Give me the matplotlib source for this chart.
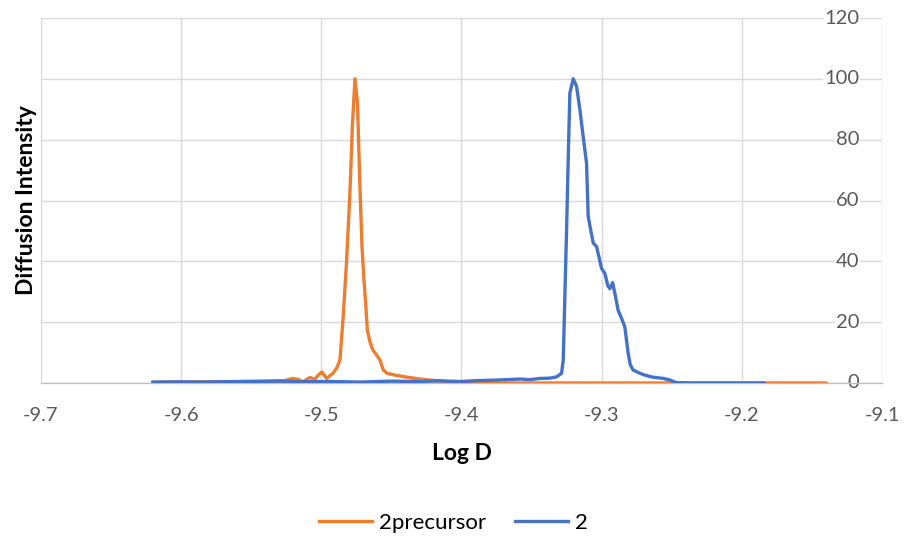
import matplotlib.pyplot as plt

plt.rcParams["font.family"] = ["Lato", "DejaVu Sans"]

# DOSY projection: log D versus diffusion intensity
precursor_logd = [
    -9.6201, -9.6009, -9.5723, -9.5438, -9.5260, -9.5203, -9.5167, -9.5131,
    -9.5081, -9.5046, -9.5024, -9.4996, -9.4962, -9.4939, -9.4917, -9.4889,
    -9.4867, -9.4844, -9.4820, -9.4796, -9.4778, -9.4760, -9.4742, -9.4725,
    -9.4710, -9.4696, -9.4682, -9.4672, -9.4653, -9.4632, -9.4606, -9.4582,
    -9.4558, -9.4532, -9.4475, -9.4389, -9.4275, -9.4104, -9.3940, -9.1400,
]
precursor_int = [
    0.2, 0.3, 0.4, 0.5, 0.8, 1.5, 1.2, 0.4,
    1.8, 1.2, 2.5, 3.6, 1.5, 2.4, 3.2, 5.0,
    7.6, 21.8, 40.0, 62.5, 85.0, 100.0, 92.0, 65.0,
    45.0, 34.0, 25.0, 17.4, 13.5, 10.8, 9.2, 7.6,
    4.3, 3.2, 2.6, 1.9, 1.2, 0.4, 0.0, 0.0,
]

product_logd = [
    -9.6201, -9.6009, -9.5866, -9.5580, -9.5295, -9.5153, -9.4939, -9.4725,
    -9.4511, -9.4297, -9.4154, -9.4011, -9.3869, -9.3726, -9.3583, -9.3512,
    -9.3440, -9.3369, -9.3322, -9.3286, -9.3274, -9.3262, -9.3250, -9.3239,
    -9.3227, -9.3203, -9.3179, -9.3155, -9.3132, -9.3108, -9.3096, -9.3077,
    -9.3060, -9.3036, -9.3001, -9.2977, -9.2956, -9.2942, -9.2922, -9.2906,
    -9.2883, -9.2856, -9.2835, -9.2811, -9.2796, -9.2776, -9.2728, -9.2692,
    -9.2644, -9.2561, -9.2514, -9.2466, -9.2371, -9.1843,
]
product_int = [
    0.3, 0.4, 0.3, 0.5, 0.6, 0.4, 0.5, 0.3,
    0.6, 0.5, 0.7, 0.5, 0.8, 1.0, 1.3, 1.1,
    1.5, 1.6, 2.0, 3.2, 7.6, 29.6, 51.0, 73.0,
    95.3, 100.0, 97.5, 89.8, 81.0, 72.3, 54.7, 50.0,
    46.0, 44.8, 37.7, 36.0, 32.0, 31.0, 33.0, 29.5,
    24.0, 21.0, 18.5, 9.8, 6.0, 4.3, 3.2, 2.6,
    2.0, 1.5, 1.0, 0.1, 0.0, 0.0,
]

x_ticks = [-9.7, -9.6, -9.5, -9.4, -9.3, -9.2, -9.1]
y_ticks = [0, 20, 40, 60, 80, 100, 120]

ORANGE = "#ED7D31"
BLUE = "#4472C4"
GRID = "#D9D9D9"
LABEL = "#595959"

fig = plt.figure(figsize=(9.07, 5.44), dpi=100)
ax = fig.add_axes([41 / 907, 1 - 383 / 544, 841 / 907, 365 / 544])

ax.plot(precursor_logd, precursor_int, color=ORANGE, lw=2.4, label="2precursor",
        solid_joinstyle="round", zorder=3)
ax.plot(product_logd, product_int, color=BLUE, lw=2.4, label="2",
        solid_joinstyle="round", zorder=4)

ax.set_xlim(-9.7, -9.1)
ax.set_ylim(0, 120)
ax.set_xticks(x_ticks)
ax.set_xticklabels([f"{v:.1f}" for v in x_ticks])
ax.set_yticks(y_ticks)

ax.grid(True, color=GRID, lw=1.0, zorder=0)
ax.set_axisbelow(True)
for side in ("top", "right", "left"):
    ax.spines[side].set_visible(False)
ax.spines["bottom"].set_color("#BFBFBF")
ax.spines["bottom"].set_linewidth(1.0)

ax.tick_params(axis="x", length=0, pad=17, labelsize=14.5, labelcolor=LABEL)
ax.tick_params(axis="y", length=0, labelleft=False, labelright=True,
               pad=-16.5, labelsize=14.5, labelcolor=LABEL)
for lbl in ax.get_yticklabels():
    lbl.set_horizontalalignment("right")
    lbl.set_verticalalignment("center")
    lbl.set_bbox(dict(facecolor="white", edgecolor="none", pad=0.5))

ax.set_xlabel("Log D", fontsize=16.5, fontweight="bold", labelpad=14)
ax.set_ylabel("Diffusion Intensity", fontsize=16.5, fontweight="bold", labelpad=3)

fig.legend(loc="center", bbox_to_anchor=(0.5, 1 - 523 / 544), ncol=2, frameon=False,
           fontsize=16, handlelength=2.4, handletextpad=0.3, columnspacing=1.3)

fig.savefig("out.png", dpi=100)
